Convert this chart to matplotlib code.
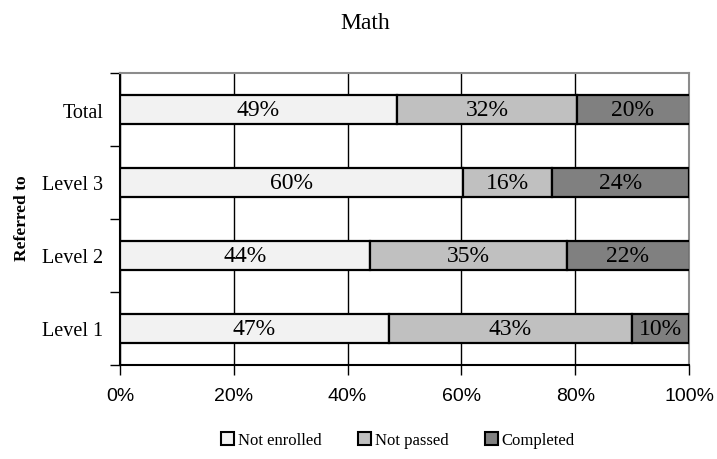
import numpy as np
import matplotlib
matplotlib.use("Agg")
import matplotlib.pyplot as plt
from matplotlib.patches import Patch
from matplotlib.ticker import FixedLocator

# data (percent of students)
categories = ["Level 1", "Level 2", "Level 3", "Total"]
not_enrolled = [47.2, 43.9, 60.3, 48.7]
not_passed = [42.7, 34.6, 15.7, 31.6]
completed = [10.1, 21.6, 24.0, 19.8]
series_names = ["Not enrolled", "Not passed", "Completed"]
series_colors = ["#f2f2f2", "#c0c0c0", "#808080"]
xtick_values = [0, 20, 40, 60, 80, 100]

SERIF = "Liberation Serif"
SANS = "Liberation Sans"

fig = plt.figure(figsize=(7.17, 4.6), dpi=100)
ax = fig.add_axes([120 / 717, 1 - 366 / 460, (689 - 120) / 717, (366 - 74) / 460])

y = np.arange(len(categories))
left = np.zeros(len(categories))
for vals, name, col in zip([not_enrolled, not_passed, completed], series_names, series_colors):
    vals = np.array(vals)
    bars = ax.barh(y, vals, left=left, height=0.4, color=col, edgecolor="black",
                   linewidth=1.6, label=name, zorder=3)
    ax.bar_label(bars, labels=[f"{v:.0f}%" for v in vals], label_type="center",
                 fontsize=17, family=SERIF, zorder=4)
    left += vals

ax.set_xlim(0, 100)
ax.set_ylim(-0.5, len(categories) - 0.5)

# vertical grid
ax.xaxis.set_major_locator(FixedLocator(xtick_values))
ax.grid(axis="x", color="black", linewidth=1, zorder=0)
ax.set_xticklabels([f"{v}%" for v in xtick_values], fontsize=14, family=SANS)
ax.tick_params(axis="x", direction="out", length=7, width=1, pad=9)

# category labels, ticks between categories
ax.set_yticks(y)
ax.set_yticklabels(categories, fontsize=14.5, family=SERIF)
ax.tick_params(axis="y", which="major", length=0, pad=12)
ax.yaxis.set_minor_locator(FixedLocator(np.arange(-0.5, len(categories), 1.0)))
ax.tick_params(axis="y", which="minor", direction="out", length=7, width=1)

for s in ["left", "bottom"]:
    ax.spines[s].set_color("black")
    ax.spines[s].set_linewidth(1.5)
for s in ["top", "right"]:
    ax.spines[s].set_color("#8c8c8c")
    ax.spines[s].set_linewidth(1.5)

fig.text(365 / 717, 1 - 29 / 460, "Math", ha="center", va="baseline",
         fontsize=17, family=SERIF)
fig.text(22 / 717, 1 - 218 / 460, "Referred to", rotation=90, ha="center",
         va="center", fontsize=12.5, family=SERIF, fontweight="bold")

handles = [Patch(facecolor=c, edgecolor="black", linewidth=1.5) for c in series_colors]
fig.legend(handles, series_names, loc="center", bbox_to_anchor=(398 / 717, 1 - 441 / 460),
           ncol=3, frameon=False, prop={"family": SERIF, "size": 12},
           handlelength=0.8, handleheight=0.8, handletextpad=0.2, columnspacing=2.2)

fig.savefig("out.png", dpi=100)
